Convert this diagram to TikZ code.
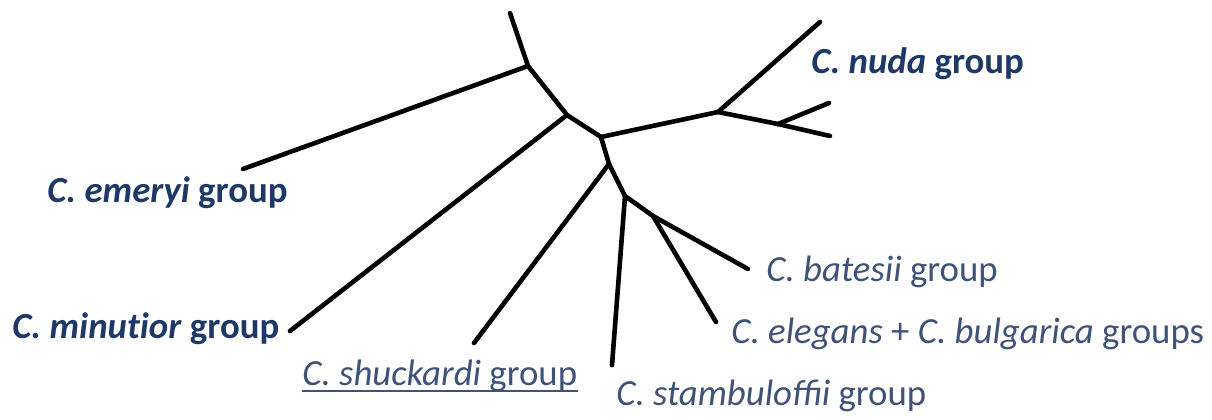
\documentclass[tikz,border=0pt]{standalone}
\usepackage{fontspec}
\setmainfont{Carlito}
\definecolor{navy}{RGB}{30,56,104}
\definecolor{slate}{RGB}{62,82,122}
\tikzset{
  branch/.style={line width=2.3pt, line cap=round, line join=round, black},
  boldlab/.style={anchor=base west, inner sep=0pt, text=navy, font=\fontsize{18.4}{20}\selectfont\bfseries},
  reglab/.style={anchor=base west, inner sep=0pt, text=slate, font=\fontsize{18.4}{20}\selectfont},
}
\begin{document}
\begin{tikzpicture}[x=0.5pt,y=-0.5pt]
\useasboundingbox (0,0) rectangle (1212,419);
% internal nodes
\coordinate (A) at (528,66);
\coordinate (B) at (567,115);
\coordinate (C) at (601,137);
\coordinate (D) at (718,112);
\coordinate (E) at (778,124);
\coordinate (F) at (609,164);
\coordinate (G) at (625,196);
\coordinate (H) at (653,216);
% tips
\coordinate (top) at (510,13);
\coordinate (em) at (243,169);
\coordinate (mi) at (290,331);
\coordinate (nu1) at (820,22);
\coordinate (nu2) at (829,103);
\coordinate (nu3) at (830,136);
\coordinate (sh) at (474,343);
\coordinate (st) at (612,365);
\coordinate (ba) at (748,269);
\coordinate (el) at (716,322);
% branches
\draw[branch] (top) -- (A);
\draw[branch] (A) -- (em);
\draw[branch] (A) -- (B);
\draw[branch] (B) -- (mi);
\draw[branch] (B) -- (C);
\draw[branch] (C) -- (D);
\draw[branch] (D) -- (nu1);
\draw[branch] (D) -- (E);
\draw[branch] (E) -- (nu2);
\draw[branch] (E) -- (nu3);
\draw[branch] (C) -- (F);
\draw[branch] (F) -- (sh);
\draw[branch] (F) -- (G);
\draw[branch] (G) -- (st);
\draw[branch] (G) -- (H);
\draw[branch] (H) -- (ba);
\draw[branch] (H) -- (el);
% labels
\node[boldlab] (nuda) at (811,73) {\textit{C. nuda} group};
\node[boldlab] (emeryi) at (47,202) {\textit{C. emeryi} group};
\node[boldlab] (minutior) at (12,338) {\textit{C. minut\kern0pt ior} group};
\node[reglab] (shu) at (302,385) {\textit{C. shuckardi} group};
\draw[slate, line width=1.1pt] ([yshift=-3pt]shu.base west) -- ([yshift=-3pt]shu.base east);
\node[reglab] (bat) at (766,281) {\textit{C. batesii} group};
\node[reglab] (ele) at (731,343) {\textit{C. elegans} + \textit{C. bulgarica} groups};
\node[reglab] (sta) at (616,405) {\textit{C. stambuloffii} group};
\end{tikzpicture}
\end{document}
